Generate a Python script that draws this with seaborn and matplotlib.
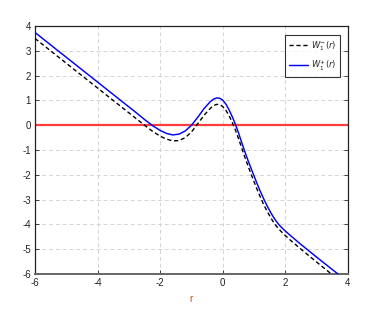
import matplotlib
matplotlib.use("Agg")
import matplotlib.pyplot as plt
import seaborn as sns
import pandas as pd

# ---- data ----
r_vals = [-6.0, -5.5, -5.0, -4.5, -4.0, -3.5, -3.0, -2.75, -2.5, -2.25, -2.0, -1.8, -1.6, -1.4,
          -1.2, -1.0, -0.8, -0.6, -0.4, -0.3, -0.2, -0.1, 0.0, 0.1, 0.2, 0.3, 0.4, 0.5, 0.6, 0.7,
          0.8, 0.9, 1.0, 1.1, 1.2, 1.3, 1.4, 1.5, 1.6, 1.7, 1.8, 1.9, 2.0, 2.2, 2.5, 3.0, 3.5, 4.0]
w_plus = [3.74, 3.24, 2.74, 2.24, 1.74, 1.24, 0.74, 0.49, 0.23, -0.01, -0.21, -0.33, -0.39, -0.36,
          -0.23, 0.00, 0.32, 0.67, 0.95, 1.05, 1.10, 1.09, 1.01, 0.85, 0.62, 0.35, 0.05, -0.30, -0.68, -1.05,
          -1.40, -1.73, -2.05, -2.37, -2.67, -2.95, -3.21, -3.45, -3.67, -3.86, -4.02, -4.15, -4.27, -4.49,
          -4.81, -5.32, -5.82, -6.32]
w_minus = [3.50, 3.00, 2.50, 2.00, 1.50, 1.00, 0.50, 0.25, 0.00, -0.24, -0.44, -0.56, -0.63, -0.62,
           -0.50, -0.27, 0.06, 0.40, 0.68, 0.79, 0.84, 0.84, 0.75, 0.60, 0.39, 0.12, -0.18, -0.53, -0.90, -1.27,
           -1.62, -1.96, -2.28, -2.60, -2.90, -3.18, -3.43, -3.66, -3.87, -4.05, -4.20, -4.33, -4.45, -4.68,
           -5.00, -5.52, -6.03, -6.55]

zero_level = 0.0

x_ticks = [-6, -4, -2, 0, 2, 4]
y_ticks = [-6, -5, -4, -3, -2, -1, 0, 1, 2, 3, 4]
x_label = "r"
label_minus = r"$W_1^{-}(r)$"
label_plus = r"$W_1^{+}(r)$"

# ---- plotting ----
sns.set_style("white")
plt.rcParams["font.family"] = ["Liberation Sans", "DejaVu Sans"]

fig = plt.figure(figsize=(3.71, 3.10), dpi=100)
ax = fig.add_axes([0.0943, 0.116, 0.8437, 0.800])

df_m = pd.DataFrame({"r": r_vals, "w": w_minus})
df_p = pd.DataFrame({"r": r_vals, "w": w_plus})

ax.axhline(zero_level, color="#ff3b3b", lw=1.6, zorder=2)
sns.lineplot(data=df_m, x="r", y="w", ax=ax, color="black", lw=1.0,
             label=label_minus, zorder=3, sort=False)
ax.lines[-1].set_dashes((3, 2))
sns.lineplot(data=df_p, x="r", y="w", ax=ax, color="#0000ff", lw=1.05,
             label=label_plus, zorder=4, sort=False)

ax.set_xlim(-6, 4)
ax.set_ylim(-6, 4)
ax.set_xticks(x_ticks)
ax.set_yticks(y_ticks)
ax.set_xticklabels([str(t) for t in x_ticks])
ax.set_yticklabels([str(t) for t in y_ticks])
ax.tick_params(direction="in", length=3, width=0.6, labelsize=7, colors="#222222",
               top=False, right=True, left=True, bottom=True, pad=3)
ax.grid(True, color="#d4d4d4", linestyle=(0, (4, 3)), lw=0.7)
ax.set_axisbelow(True)
for s in ax.spines.values():
    s.set_color("#222222")
    s.set_linewidth(0.9)
ax.spines["bottom"].set_color("#666666")
ax.spines["bottom"].set_linewidth(1.4)

ax.set_xlabel(x_label, fontsize=7, color="#c0501a", labelpad=4)
ax.set_ylabel("")

leg = ax.legend(loc="upper right", bbox_to_anchor=(0.98, 0.97), fontsize=6,
                frameon=True, fancybox=False, handlelength=2.3, handletextpad=0.3,
                borderpad=0.5, labelspacing=0.7, borderaxespad=0.2)
leg.get_frame().set_edgecolor("black")
leg.get_frame().set_linewidth(0.8)

fig.savefig("out.png", dpi=100)
